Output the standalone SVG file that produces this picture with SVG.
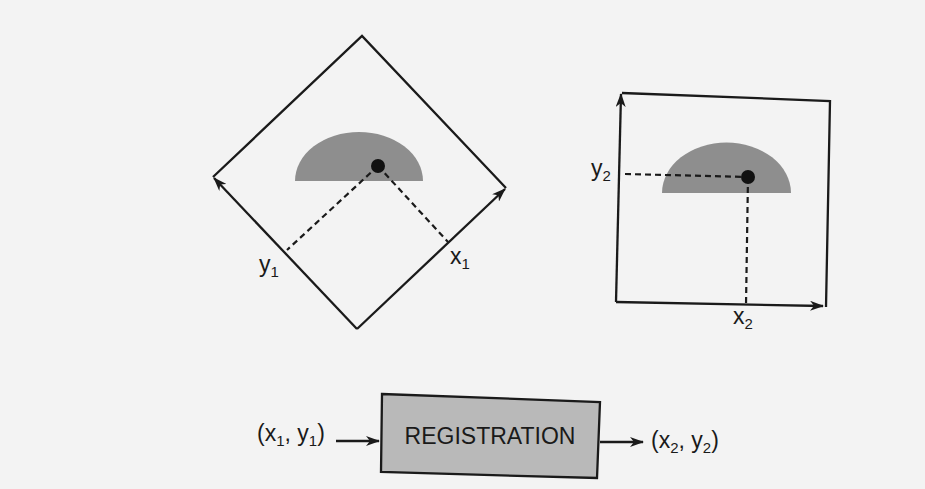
<svg xmlns="http://www.w3.org/2000/svg" width="925" height="489" viewBox="0 0 925 489">
<defs>
<style>
.ln{fill:none;stroke:#1a1a1a;stroke-width:2.3}
.ax{fill:none;stroke:#1a1a1a;stroke-width:2.3;marker-end:url(#ah)}
.dash{fill:none;stroke:#1a1a1a;stroke-width:2.2;stroke-dasharray:6,4}
.blob{fill:#8e8e8e}
.dot{fill:#111}
.lbl{font-family:"Liberation Sans",Arial,sans-serif;font-size:23px;fill:#1a1a1a}
.sub{font-size:15px}
</style>
<marker id="ah" viewBox="0 0 14 10" refX="13" refY="5" markerWidth="14" markerHeight="10" markerUnits="userSpaceOnUse" orient="auto">
<path d="M0,0 L14,5 L0,10 L4,5 Z" fill="#1a1a1a"/>
</marker>
</defs>
<rect width="925" height="489" fill="#f3f3f3"/>

<g id="rotated-frame">
<polyline class="ln" points="213,177 362,36 506,188"/>
<line class="ax" x1="357" y1="329" x2="214" y2="178"/>
<line class="ax" x1="357" y1="329" x2="505" y2="189"/>
<path class="blob" d="M295,181 A64,49 0 0 1 423,181 Z"/>
<line class="dash" x1="378" y1="166" x2="287" y2="250"/>
<line class="dash" x1="378" y1="166" x2="448" y2="242"/>
<circle class="dot" cx="378" cy="166" r="7"/>
<text class="lbl" x="259" y="272">y<tspan class="sub" dy="5">1</tspan></text>
<text class="lbl" x="450" y="264">x<tspan class="sub" dy="5">1</tspan></text>
</g>

<g id="upright-frame">
<polyline class="ln" points="622,93 830,101 826,307"/>
<line class="ax" x1="616" y1="302" x2="621" y2="94"/>
<line class="ax" x1="616" y1="302" x2="823" y2="306"/>
<path class="blob" d="M662,193 A64,50 0 0 1 791,193 Z"/>
<line class="dash" x1="625" y1="174" x2="748" y2="177"/>
<line class="dash" x1="748" y1="177" x2="746" y2="305"/>
<circle class="dot" cx="748" cy="177" r="7"/>
<text class="lbl" x="591" y="176">y<tspan class="sub" dy="5">2</tspan></text>
<text class="lbl" x="733" y="324">x<tspan class="sub" dy="5">2</tspan></text>
</g>

<g id="registration">
<polygon points="382,394 600,402 597,478 381,472" fill="#b9b9b9" stroke="#1a1a1a" stroke-width="2.3"/>
<text class="lbl" x="490" y="444" text-anchor="middle" font-size="20">REGISTRATION</text>
</g>

<g id="input-label">
<text class="lbl" x="257" y="441">(x<tspan class="sub" dy="5">1</tspan><tspan dy="-5">, y</tspan><tspan class="sub" dy="5">1</tspan><tspan dy="-5">)</tspan></text>
</g>
<g id="output-label">
<text class="lbl" x="651" y="448">(x<tspan class="sub" dy="5">2</tspan><tspan dy="-5">, y</tspan><tspan class="sub" dy="5">2</tspan><tspan dy="-5">)</tspan></text>
</g>

<g id="connectors">
<line class="ax" x1="336" y1="441" x2="379" y2="441"/>
<line class="ax" x1="600" y1="442" x2="643" y2="442"/>
</g>
</svg>
